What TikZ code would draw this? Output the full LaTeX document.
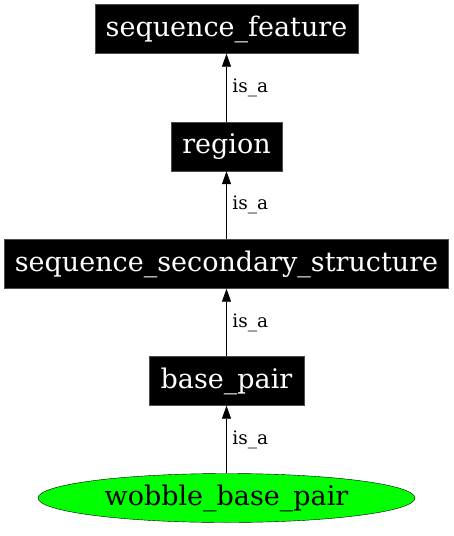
\documentclass[tikz,border=0pt]{standalone}
\usepackage{fontspec}
\setmainfont{DejaVu Serif}
\usetikzlibrary{arrows.meta,shapes.geometric}
\begin{document}
\begin{tikzpicture}[x=1pt,y=-1pt,
  blackbox/.style={draw=black!70,fill=black,text=white,inner sep=0pt,minimum height=49pt,font=\fontsize{27}{30}\selectfont},
  greenell/.style={ellipse,draw=black,fill=green,inner sep=0pt,minimum width=377pt,minimum height=49pt,font=\fontsize{27}{30}\selectfont},
  isa/.style={-{Triangle[length=13pt,width=9pt]},line width=0.8pt},
  lbl/.style={font=\fontsize{18.5}{22}\selectfont,anchor=west,inner sep=0pt}]
\useasboundingbox (0,0) rectangle (453,536);
\node[blackbox,minimum width=263pt] (sf) at (226.5,29) {sequence\_feature};
\node[blackbox,minimum width=111pt] (rg) at (226.5,146.5) {region};
\node[blackbox,minimum width=444pt] (sss) at (226.5,264) {sequence\_secondary\_structure};
\node[blackbox,minimum width=155pt] (bp) at (226.5,381) {base\_pair};
\node[greenell] (wbp) at (226.5,498) {wobble\_base\_pair};
\draw[isa] (rg) -- node[lbl,pos=0.5,xshift=5.5pt] {is\_a} (sf);
\draw[isa] (sss) -- node[lbl,pos=0.5,xshift=5.5pt] {is\_a} (rg);
\draw[isa] (bp) -- node[lbl,pos=0.5,xshift=5.5pt] {is\_a} (sss);
\draw[isa] (wbp) -- node[lbl,pos=0.5,xshift=5.5pt] {is\_a} (bp);
\end{tikzpicture}
\end{document}
